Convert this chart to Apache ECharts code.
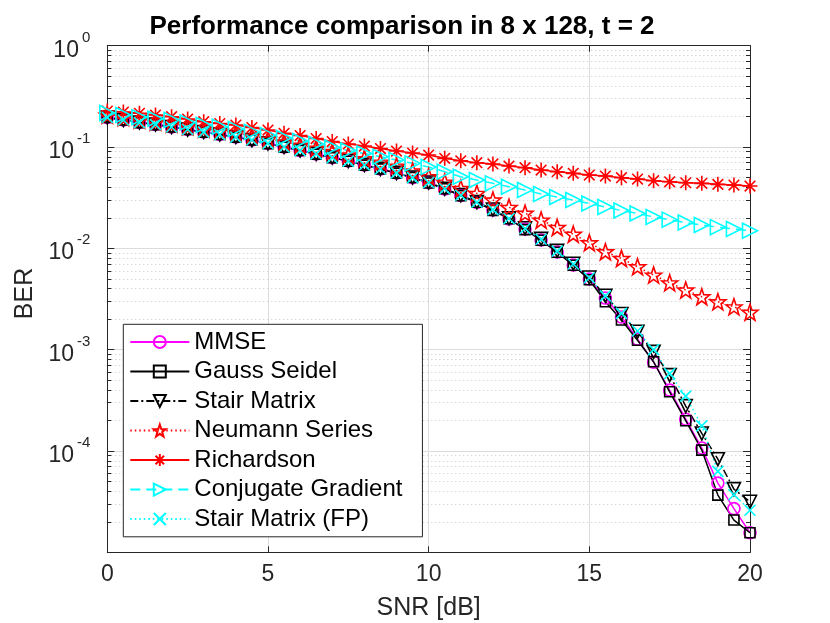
<!DOCTYPE html>
<html>
<head>
<meta charset="utf-8">
<script src="https://cdn.jsdelivr.net/npm/echarts@6/dist/echarts.min.js"></script>
<style>
  html, body { margin: 0; padding: 0; background: #fff; }
  #chart { width: 830px; height: 623px; }
</style>
</head>
<body>
<div id="chart"></div>
<script>
// SNR points (dB)
const snr = [0, 0.5, 1, 1.5, 2, 2.5, 3, 3.5, 4, 4.5, 5, 5.5, 6, 6.5, 7, 7.5, 8, 8.5, 9, 9.5,
  10, 10.5, 11, 11.5, 12, 12.5, 13, 13.5, 14, 14.5, 15, 15.5, 16, 16.5, 17, 17.5, 18, 18.5, 19, 19.5, 20];

// BER
const mmse = [0.1955, 0.1847, 0.1745, 0.1668, 0.1575, 0.1488, 0.1406, 0.1328, 0.1255, 0.1172,
  0.1083, 0.1000, 0.0923, 0.0853, 0.0784, 0.0727, 0.0664, 0.0606, 0.0554, 0.0498,
  0.0444, 0.0385, 0.0332, 0.0283, 0.0239, 0.0195, 0.0155, 0.0121, 0.00919, 0.00684,
  0.00498, 0.00323, 0.00210, 0.00127, 7.54e-4, 3.99e-4, 2.06e-4, 1.07e-4, 4.82e-5, 2.70e-5, 1.56e-5];
const gaussSeidel = [0.1962, 0.1850, 0.1741, 0.1664, 0.1580, 0.1490, 0.1402, 0.1330, 0.1251, 0.1175,
  0.1080, 0.0998, 0.0926, 0.0850, 0.0786, 0.0724, 0.0662, 0.0608, 0.0552, 0.0500,
  0.0442, 0.0387, 0.0330, 0.0285, 0.0237, 0.0196, 0.0153, 0.0120, 0.00915, 0.00680,
  0.00490, 0.00297, 0.00196, 0.00124, 7.6e-4, 3.84e-4, 1.99e-4, 1.02e-4, 3.67e-5, 2.08e-5, 1.56e-5];
const stairMatrix = [0.1958, 0.1845, 0.1748, 0.1670, 0.1578, 0.1486, 0.1409, 0.1331, 0.1257, 0.1170,
  0.1086, 0.1003, 0.0925, 0.0855, 0.0787, 0.0729, 0.0667, 0.0609, 0.0556, 0.0501,
  0.0447, 0.0388, 0.0335, 0.0286, 0.0242, 0.0198, 0.0158, 0.0124, 0.00945, 0.00705,
  0.00515, 0.00340, 0.00225, 0.00150, 9.5e-4, 5.6e-4, 2.77e-4, 1.49e-4, 8.3e-5, 4.2e-5, 3.15e-5];
const neumann = [0.2069, 0.1955, 0.1847, 0.1765, 0.1687, 0.1594, 0.1505, 0.1438, 0.1374, 0.1284,
  0.1199, 0.1120, 0.1046, 0.0977, 0.0903, 0.0834, 0.0770, 0.0711, 0.0649, 0.0580,
  0.0511, 0.0451, 0.0391, 0.0349, 0.0300, 0.0254, 0.0222, 0.0190, 0.0161, 0.0138,
  0.01136, 0.00926, 0.00796, 0.00658, 0.00545, 0.00457, 0.00388, 0.00333, 0.00297, 0.00265, 0.00234];
const richardson = [0.2267, 0.2216, 0.2151, 0.2069, 0.1991, 0.1890, 0.1777, 0.1706, 0.1649, 0.1558,
  0.1472, 0.1365, 0.1298, 0.1213, 0.1133, 0.1071, 0.1023, 0.0966, 0.0913, 0.0873,
  0.0834, 0.0773, 0.0732, 0.0700, 0.0680, 0.0649, 0.0625, 0.0593, 0.0571, 0.0550,
  0.0529, 0.0517, 0.0498, 0.0483, 0.0465, 0.0454, 0.0444, 0.0438, 0.0428, 0.0421, 0.0412];
const conjGrad = [0.2166, 0.2069, 0.1964, 0.1903, 0.1847, 0.1745, 0.1649, 0.1586, 0.1510, 0.1410,
  0.1310, 0.1225, 0.1145, 0.1071, 0.0989, 0.0923, 0.0863, 0.0802, 0.0744, 0.0690,
  0.0635, 0.0571, 0.0509, 0.0472, 0.0438, 0.0406, 0.0376, 0.0344, 0.0321, 0.0300,
  0.0277, 0.0256, 0.0236, 0.0221, 0.0204, 0.0192, 0.0180, 0.0170, 0.0162, 0.0155, 0.0149];
const stairFP = [0.1960, 0.1849, 0.1743, 0.1666, 0.1577, 0.1491, 0.1404, 0.1327, 0.1253, 0.1174,
  0.1085, 0.1001, 0.0921, 0.0856, 0.0786, 0.0726, 0.0665, 0.0607, 0.0555, 0.0499,
  0.0446, 0.0387, 0.0334, 0.0285, 0.0241, 0.0197, 0.0157, 0.0123, 0.00940, 0.00700,
  0.00512, 0.00340, 0.00228, 0.00153, 1.0e-3, 5.8e-4, 3.48e-4, 1.77e-4, 6.3e-5, 3.7e-5, 2.6e-5];

const FONT = 'Liberation Sans, Arial, Helvetica, sans-serif';
const AX = '#262626';

const STAR = 'path://M0,-10L2.35,-3.24L9.51,-3.09L3.8,1.24L5.88,8.09L0,4L-5.88,8.09L-3.8,1.24L-9.51,-3.09L-2.35,-3.24Z';
const ASTER = 'path://M0,-10L0,10M-10,0L10,0M-7.07,-7.07L7.07,7.07M-7.07,7.07L7.07,-7.07';
const CROSS = 'path://M-10,-10L10,10M-10,10L10,-10';
const TRI_DOWN = 'path://M-10,-8L10,-8L0,10Z';
const TRI_RIGHT = 'path://M-8,-10L10,0L-8,10Z';

function makeSeries(name, values, color, symbol, size, dash) {
  return {
    name: name,
    type: 'line',
    data: values.map((v, i) => [snr[i], v]),
    symbol: symbol,
    symbolSize: size,
    showAllSymbol: true,
    lineStyle: { color: color, width: 1.5, type: dash },
    itemStyle: { color: 'transparent', borderColor: color, borderWidth: 1.6 },
    emphasis: { disabled: true },
    animation: false
  };
}

const chart = echarts.init(document.getElementById('chart'));

const option = {
  backgroundColor: '#fff',
  animation: false,
  title: {
    text: 'Performance comparison in 8 x 128, t = 2',
    left: 402,
    top: 14,
    textAlign: 'center',
    padding: 0,
    textStyle: { fontFamily: FONT, fontSize: 26, fontWeight: 'bold', color: '#000' }
  },
  grid: { left: 107.3, right: 80, top: 45.7, bottom: 70.7, containLabel: false, outerBoundsMode: 'none' },
  legend: {
    orient: 'vertical',
    left: 123.3,
    top: 324.3,
    itemWidth: 59,
    itemHeight: 15,
    itemGap: 0,
    padding: [3, 20, 3, 6],
    borderColor: AX,
    borderWidth: 1,
    backgroundColor: '#fff',
    textStyle: { fontFamily: FONT, fontSize: 24, color: '#000', lineHeight: 29.5 },
    data: ['MMSE', 'Gauss Seidel', 'Stair Matrix', 'Neumann Series', 'Richardson', 'Conjugate Gradient', 'Stair Matrix (FP)']
  },
  xAxis: [
    {
      type: 'value', min: 0, max: 20, interval: 5, position: 'bottom',
      name: 'SNR [dB]', nameLocation: 'middle', nameGap: 43,
      nameTextStyle: { fontFamily: FONT, fontSize: 25, color: AX },
      axisLine: { show: true, onZero: false, lineStyle: { color: AX, width: 1 } },
      axisTick: { show: true, inside: true, length: 6, lineStyle: { color: AX } },
      axisLabel: { fontFamily: FONT, fontSize: 23, color: AX, margin: 11 },
      splitLine: { show: true, lineStyle: { color: '#dcdcdc', width: 1 } }
    },
    {
      type: 'value', min: 0, max: 20, interval: 5, position: 'top',
      axisLine: { show: true, onZero: false, lineStyle: { color: AX, width: 1 } },
      axisTick: { show: true, inside: true, length: 6, lineStyle: { color: AX } },
      axisLabel: { show: false },
      splitLine: { show: false }
    }
  ],
  yAxis: [
    {
      type: 'log', logBase: 10, min: 1e-5, max: 1, position: 'left',
      name: 'BER', nameLocation: 'middle', nameGap: 62,
      nameTextStyle: { fontFamily: FONT, fontSize: 25, color: AX, padding: [0, 0, 0, 11] },
      axisLine: { show: true, onZero: false, lineStyle: { color: AX, width: 1 } },
      axisTick: { show: true, inside: true, length: 7, lineStyle: { color: AX } },
      minorTick: { show: true, splitNumber: 9, length: 4, lineStyle: { color: AX } },
      splitLine: { show: true, lineStyle: { color: '#dcdcdc', width: 1 } },
      minorSplitLine: { show: true, lineStyle: { color: '#c8c8c8', width: 1, type: [1, 3] } },
      axisLabel: {
        margin: 17,
        formatter: function (v) {
          const e = Math.round(Math.log10(v));
          if (e === -5) return '';
          return '{b|10}{e|' + e + '}';
        },
        rich: {
          b: { fontFamily: FONT, fontSize: 23, color: AX, padding: [9, 0, 0, 0] },
          e: { fontFamily: FONT, fontSize: 15, color: AX, padding: [0, 0, 16, 3] }
        }
      }
    },
    {
      type: 'log', logBase: 10, min: 1e-5, max: 1, position: 'right',
      axisLine: { show: true, onZero: false, lineStyle: { color: AX, width: 1 } },
      axisTick: { show: true, inside: true, length: 7, lineStyle: { color: AX } },
      minorTick: { show: true, splitNumber: 9, length: 4, lineStyle: { color: AX } },
      axisLabel: { show: false },
      splitLine: { show: false }
    }
  ],
  series: [
    makeSeries('MMSE', mmse, '#ff00ff', 'circle', 12, 'solid'),
    makeSeries('Gauss Seidel', gaussSeidel, '#000000', 'rect', 10, 'solid'),
    makeSeries('Stair Matrix', stairMatrix, '#000000', TRI_DOWN, 13, [8, 3, 2, 3]),
    makeSeries('Neumann Series', neumann, '#ff0000', STAR, 16, [1.5, 3]),
    makeSeries('Richardson', richardson, '#ff0000', ASTER, 15, 'solid'),
    makeSeries('Conjugate Gradient', conjGrad, '#00ffff', TRI_RIGHT, 15, [10, 6]),
    makeSeries('Stair Matrix (FP)', stairFP, '#00ffff', CROSS, 11, [1.5, 3])
  ]
};

chart.setOption(option);
</script>
</body>
</html>
